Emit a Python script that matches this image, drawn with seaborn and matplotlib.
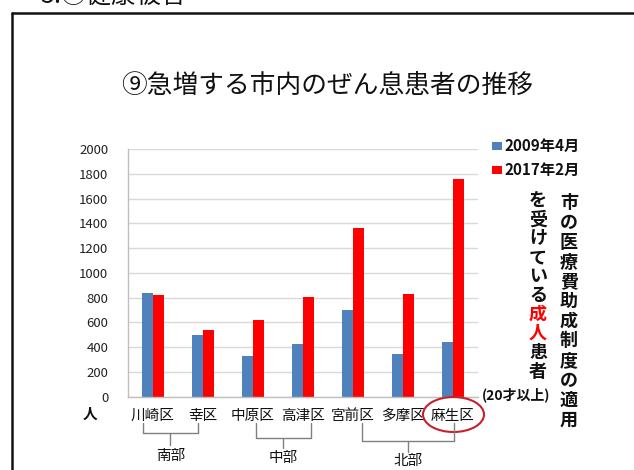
import numpy as np
import pandas as pd
import matplotlib.pyplot as plt
import matplotlib.transforms as mtransforms
from matplotlib.lines import Line2D
from matplotlib.patches import Ellipse, Rectangle
import seaborn as sns

# 区別のぜん息患者数（市の医療費助成制度の適用を受けている成人患者）
WARDS = ["川崎区", "幸区", "中原区", "高津区", "宮前区", "多摩区", "麻生区"]
PERIODS = ["2009年4月", "2017年2月"]
PATIENTS_2009 = [840, 500, 325, 425, 700, 340, 440]
PATIENTS_2017 = [820, 540, 620, 805, 1360, 830, 1760]
REGIONS = [("南部", 0, 1), ("中部", 2, 3), ("北部", 4, 6)]
Y_TICKS = list(range(0, 2001, 200))

BLUE = "#4F81BD"
RED = "#FF0000"
W, H = 634, 470

df = pd.DataFrame(
    {
        "区": WARDS * 2,
        "時期": [PERIODS[0]] * len(WARDS) + [PERIODS[1]] * len(WARDS),
        "人数": PATIENTS_2009 + PATIENTS_2017,
    }
)

sns.set_theme(style="white")
plt.rcParams["font.family"] = ["Noto Sans CJK JP", "DejaVu Sans"]
plt.rcParams["text.color"] = "#111111"


def fx(px):
    return px / W


def fy(py):
    return 1 - py / H


fig = plt.figure(figsize=(W / 100, H / 100), dpi=100)
fig.patch.set_facecolor("white")

ax = fig.add_axes([fx(127.7), fy(396.5), (477.7 - 127.7) / W, (396.5 - 149.3) / H])
sns.barplot(
    data=df,
    x="区",
    y="人数",
    hue="時期",
    palette=[BLUE, RED],
    width=0.44,
    saturation=1,
    errorbar=None,
    legend=False,
    linewidth=0,
    ax=ax,
)
ax.set_xlim(-0.5, len(WARDS) - 0.5)
ax.set_ylim(0, 2000)
ax.set_yticks(Y_TICKS)
ax.set_yticklabels([str(v) for v in Y_TICKS], fontsize=9.5, color="#222222")
ax.set_xlabel("")
ax.set_ylabel("")
ax.yaxis.grid(True, color="#D9D9D9", linewidth=1)
ax.set_axisbelow(True)
for s in ("top", "right"):
    ax.spines[s].set_visible(False)
for s in ("left", "bottom"):
    ax.spines[s].set_color("#BFBFBF")
    ax.spines[s].set_linewidth(1)
ax.tick_params(axis="y", length=4, color="#BFBFBF", pad=10)
ax.tick_params(axis="x", which="major", length=0, pad=9, labelsize=10.5, labelcolor="#111111")
ax.set_xticks(np.arange(-0.5, len(WARDS)), minor=True)
ax.tick_params(axis="x", which="minor", length=5, color="#BFBFBF", direction="out")

# 単位
fig.text(fx(90), fy(414), "人", ha="center", va="center", fontsize=10.5, fontweight="bold")

# 凡例
for i, (label, col) in enumerate(zip(PERIODS, [BLUE, RED])):
    yc = 146 + i * 24
    fig.patches.append(
        Rectangle((fx(492), fy(yc + 4)), 10 / W, 8 / H, transform=fig.transFigure,
                  facecolor=col, edgecolor="none", figure=fig)
    )
    fig.text(fx(504), fy(yc), label, ha="left", va="center", fontsize=11, fontweight="bold")

# 縦書き注記
col1 = "市の医療費助成制度の適用"
for i, ch in enumerate(col1):
    fig.text(fx(569), fy(203 + i * 19.7), ch, ha="center", va="center",
             fontsize=13, fontweight="bold")
col2 = "を受けている成人患者"
for i, ch in enumerate(col2):
    c = RED if ch in "成人" else "#111111"
    fig.text(fx(538), fy(201 + i * 18.9), ch, ha="center", va="center",
             fontsize=13, fontweight="bold", color=c)
fig.text(fx(516), fy(395), "(20才以上)", ha="center", va="center", fontsize=10, fontweight="bold")

# 地域の括弧
trans = mtransforms.blended_transform_factory(ax.transData, fig.transFigure)
bracket_style = [(-0.19, -0.1, 433, 445, 456), (0.07, 0.16, 438, 448, 458), (0.18, 0.03, 441, 452, 461)]
for (name, a, b), (oa, ob, yh, yt, yl) in zip(REGIONS, bracket_style):
    xa, xb = a + oa, b + ob
    xm = (xa + xb) / 2
    fig.lines.append(
        Line2D([xa, xa, xb, xb], [fy(423), fy(yh), fy(yh), fy(423)], transform=trans,
               color="#808080", linewidth=1, figure=fig)
    )
    fig.lines.append(
        Line2D([xm, xm], [fy(yh), fy(yt)], transform=trans, color="#808080", linewidth=1, figure=fig)
    )
    fig.text(xm, fy(yl), name, transform=trans, ha="center", va="center", fontsize=10.5)

# 麻生区の丸囲み
fig.patches.append(
    Ellipse((fx(453.5), fy(414.5)), 61 / W, 35 / H, transform=fig.transFigure,
            fill=False, edgecolor="#C8202A", linewidth=1.5, figure=fig)
)

# タイトル
fig.text(fx(327), fy(86), "⑨急増する市内のぜん息患者の推移", ha="center", va="center", fontsize=18.5)

# スライド枠と見出し（上端で切れている）
fig.lines.append(Line2D([fx(12), fx(12)], [fy(13), 0], transform=fig.transFigure,
                        color="#111111", linewidth=1.8, figure=fig))
fig.lines.append(Line2D([fx(12), 1], [fy(13), fy(13)], transform=fig.transFigure,
                        color="#111111", linewidth=1.8, figure=fig))
fig.text(fx(40), fy(3), "5.③健康被害", ha="left", va="baseline", fontsize=18)

fig.savefig("out.png", dpi=100)
